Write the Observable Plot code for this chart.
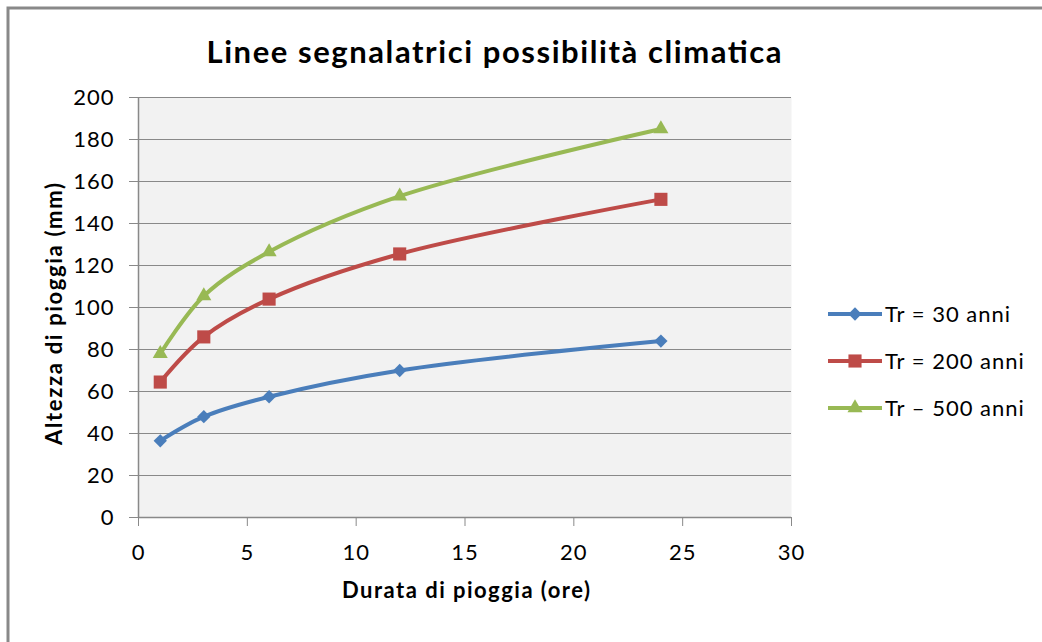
<!DOCTYPE html>
<html><head><meta charset="utf-8">
<script src="https://cdn.jsdelivr.net/npm/d3@7"></script>
<script src="https://cdn.jsdelivr.net/npm/@observablehq/plot@0.6"></script>
<style>
body{margin:0;background:#fff}
#wrap{position:relative;width:1042px;height:642px;overflow:hidden}
#wrap svg{position:absolute;left:0;top:0}
</style>
</head><body><div id="wrap"></div>
<script>
const durations = [1, 3, 6, 12, 24];
const tr30 = [36.5, 48, 57.5, 70, 84];
const tr200 = [64.5, 86, 104, 125.5, 151.5];
const tr500 = [78, 105.5, 126.5, 153, 185];
const seriesNames = ["Tr = 30 anni", "Tr = 200 anni", "Tr – 500 anni"];
const seriesColors = ["#4a7ebb", "#be4b48", "#98b954"];
const seriesSymbols = ["diamond2", "square", "triangle"];
const seriesSizes = [6, 7.4, 5.6];
const xTicks = [0, 5, 10, 15, 20, 25, 30];
const yTicks = [0, 20, 40, 60, 80, 100, 120, 140, 160, 180, 200];
const title = "Linee segnalatrici possibilità climatica";
const xLabel = "Durata di pioggia (ore)";
const yLabel = "Altezza di pioggia (mm)";

const seriesValues = [tr30, tr200, tr500];
const rows = [];
seriesValues.forEach((vals, i) => durations.forEach((d, j) =>
  rows.push({series: seriesNames[i], durata: d, altezza: vals[j]})));

const FONT = "Lato, 'Open Sans', sans-serif";
const grey = "#898989";

const marks = [
  Plot.frame({fill: "#f2f2f2", stroke: null}),
  Plot.gridY(yTicks, {stroke: grey, strokeOpacity: 1, strokeWidth: 1.2}),
  Plot.ruleX([0], {stroke: grey, strokeWidth: 1.5}),
  Plot.ruleY([0], {stroke: grey, strokeWidth: 1.5}),
  Plot.axisY(yTicks, {tickSize: 9, tickPadding: 15, stroke: grey, fill: "#000", label: null, tickFormat: d => String(d)}),
  Plot.axisX(xTicks, {tickSize: 9, tickPadding: 18, stroke: grey, fill: "#000", label: null, tickFormat: d => String(d)}),
  Plot.line(rows, {x: "durata", y: "altezza", stroke: "series", z: "series", strokeWidth: 4, curve: "catmull-rom"})
];
seriesNames.forEach((name, i) => {
  marks.push(Plot.dot(rows.filter(r => r.series === name), {
    x: "durata", y: "altezza", fill: seriesColors[i], stroke: null,
    symbol: () => seriesSymbols[i], r: seriesSizes[i]
  }));
});

const chart = Plot.plot({
  width: 1042, height: 642,
  marginLeft: 138, marginTop: 97, marginRight: 251, marginBottom: 125,
  style: {fontFamily: FONT, fontSize: "22px", letterSpacing: "1px", background: "transparent", color: "#000"},
  x: {domain: [0, 30]},
  y: {domain: [0, 200]},
  color: {domain: seriesNames, range: seriesColors},
  marks
});
document.getElementById("wrap").appendChild(chart);

// overlay: frame, title, axis titles, legend
const svg = d3.select("#wrap").append("svg")
  .attr("width", 1042).attr("height", 642)
  .style("pointer-events", "none");

svg.append("rect").attr("x", 8).attr("y", 8).attr("width", 1100).attr("height", 700)
  .attr("fill", "none").attr("stroke", grey).attr("stroke-width", 3);

svg.append("text").attr("x", 494).attr("y", 63).attr("text-anchor", "middle")
  .attr("font-family", FONT).attr("font-weight", "bold").attr("font-size", 31)
  .attr("textLength", 575).attr("lengthAdjust", "spacing")
  .text(title);

svg.append("text").attr("transform", "translate(62,314) rotate(-90)").attr("text-anchor", "middle")
  .attr("font-family", FONT).attr("font-weight", "bold").attr("font-size", 22)
  .attr("textLength", 262).attr("lengthAdjust", "spacing")
  .text(yLabel);

svg.append("text").attr("x", 466).attr("y", 598).attr("text-anchor", "middle")
  .attr("font-family", FONT).attr("font-weight", "bold").attr("font-size", 22)
  .attr("textLength", 248).attr("lengthAdjust", "spacing")
  .text(xLabel);

const legendY = [314, 361, 408];
const symMap = {diamond2: d3.symbolDiamond2, square: d3.symbolSquare, triangle: d3.symbolTriangle};
seriesNames.forEach((name, i) => {
  const g = svg.append("g").attr("transform", `translate(0,${legendY[i]})`);
  g.append("line").attr("x1", 828).attr("x2", 882).attr("y1", 0).attr("y2", 0)
    .attr("stroke", seriesColors[i]).attr("stroke-width", 4);
  g.append("path").attr("transform", "translate(855,0)")
    .attr("d", d3.symbol(symMap[seriesSymbols[i]], Math.PI * seriesSizes[i] ** 2)())
    .attr("fill", seriesColors[i]);
  g.append("text").attr("x", 885).attr("y", 0).attr("dy", "0.35em")
    .attr("font-family", FONT).attr("font-size", 22).attr("letter-spacing", "1px").text(name);
});
</script>
</body></html>
